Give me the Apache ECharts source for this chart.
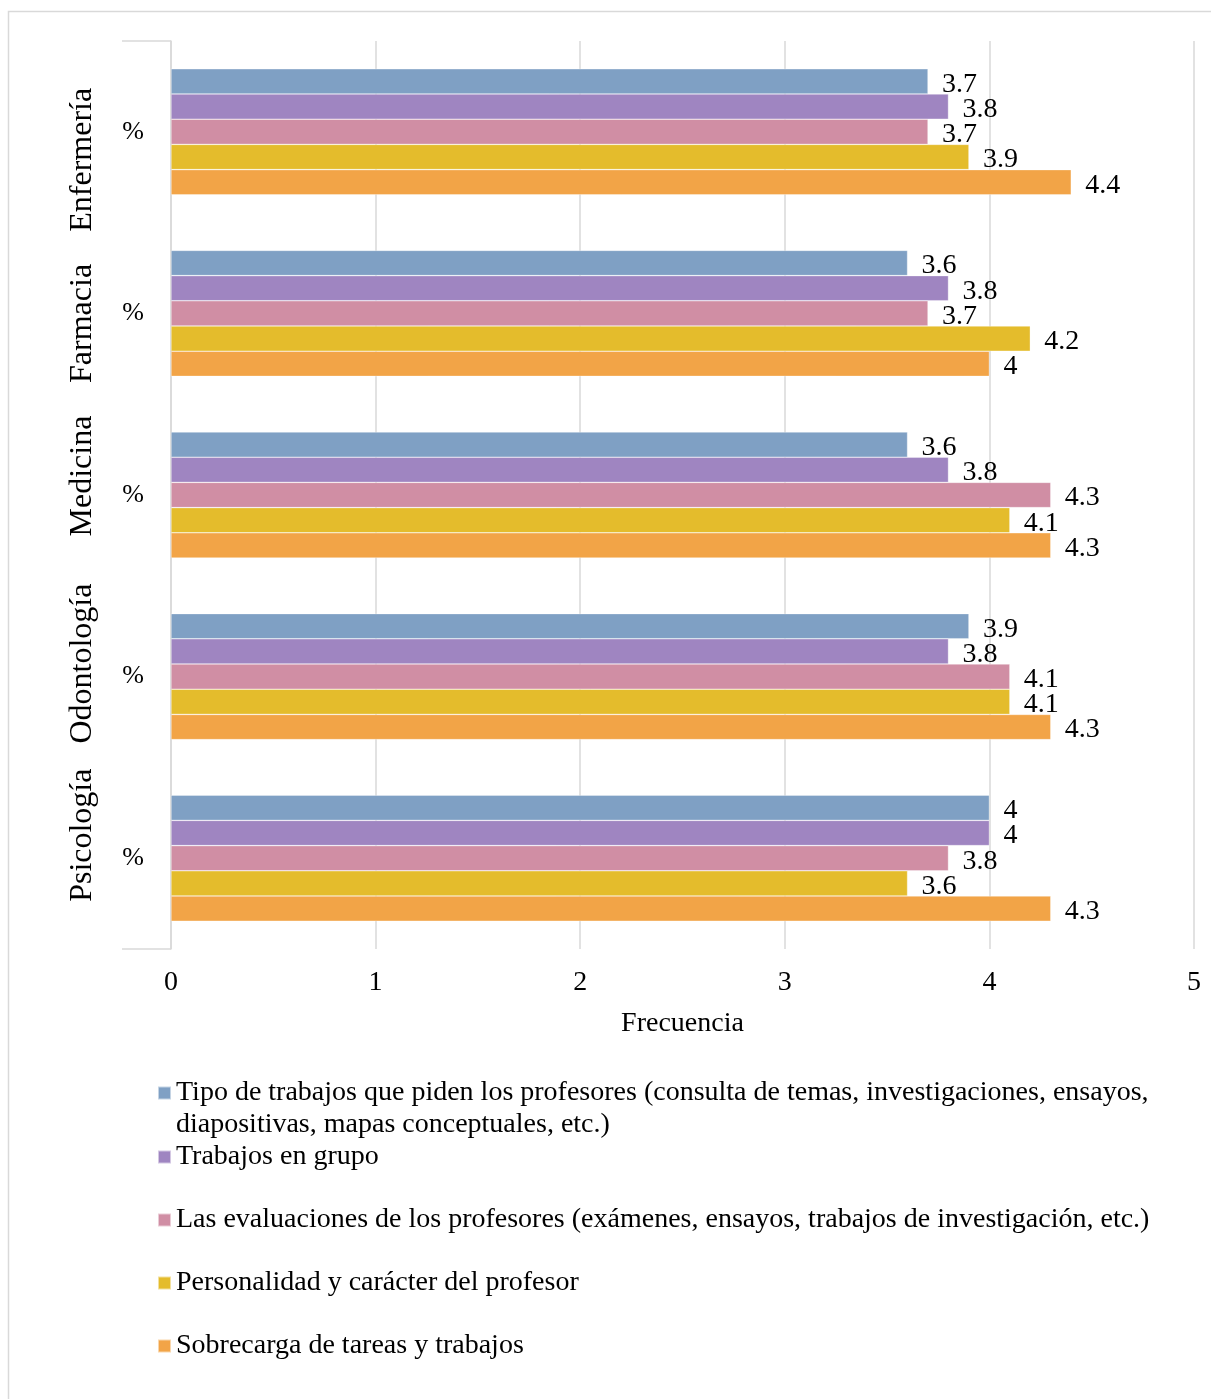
<!DOCTYPE html>
<html>
<head>
<meta charset="utf-8">
<title>Frecuencia por carrera</title>
<script src="https://cdn.jsdelivr.net/npm/echarts@6/dist/echarts.min.js"></script>
<style>
  html, body { margin: 0; padding: 0; background: #ffffff; }
  #chart { width: 1211px; height: 1399px; }
</style>
</head>
<body>
<div id="chart"></div>
<script>
// Carreras (grupos del eje vertical) y la etiqueta interior de cada grupo
const categories = ['Enfermería', 'Farmacia', 'Medicina', 'Odontología', 'Psicología'];
const innerLabels = ['%', '%', '%', '%', '%'];

// Nombres de las series
const seriesNames = [
  'Tipo de trabajos que piden los profesores (consulta de temas, investigaciones, ensayos, diapositivas, mapas conceptuales, etc.)',
  'Trabajos en grupo',
  'Las evaluaciones de los profesores (exámenes, ensayos, trabajos de investigación, etc.)',
  'Personalidad y carácter del profesor',
  'Sobrecarga de tareas y trabajos'
];

// Frecuencia media por carrera (mismo orden que categories)
const tipoTrabajos = [3.7, 3.6, 3.6, 3.9, 4];
const trabajosGrupo = [3.8, 3.8, 3.8, 3.8, 4];
const evaluaciones = [3.7, 3.7, 4.3, 4.1, 3.8];
const personalidad = [3.9, 4.2, 4.1, 4.1, 3.6];
const sobrecarga = [4.4, 4, 4.3, 4.3, 4.3];

// Escala del eje horizontal
const xMin = 0;
const xMax = 5;
const xStep = 1;

const seriesValues = [tipoTrabajos, trabajosGrupo, evaluaciones, personalidad, sobrecarga];
const colors = ['#7fa0c4', '#9f85c1', '#d08ea4', '#e4bc2c', '#f2a447'];

const FONT = '"Liberation Serif", "Times New Roman", serif';
const GRID = { left: 171, right: 17, top: 41, bottom: 450 };
const CHART_H = 1399;
const gridBottomY = CHART_H - GRID.bottom;

// Desplazamiento vertical (px) del rótulo girado de cada carrera
const outerLabelShift = [28, 10, -19, -13, -23];

const chart = echarts.init(document.getElementById('chart'), null, { renderer: 'canvas' });

const outerAxisData = categories.map(function (c, i) {
  const s = outerLabelShift[i] * 2;
  return {
    value: c,
    textStyle: { padding: s >= 0 ? [0, s, 0, 0] : [0, 0, 0, -s] }
  };
});

const series = seriesNames.map(function (name, k) {
  return {
    name: name,
    type: 'bar',
    yAxisIndex: 0,
    data: seriesValues[k],
    barGap: '0%',
    barCategoryGap: '30.6%',
    itemStyle: { color: colors[k], borderColor: 'rgba(255,255,255,0.55)', borderWidth: 0.6 },
    label: {
      show: true,
      position: 'right',
      distance: 14,
      fontFamily: FONT,
      fontSize: 28,
      color: '#000000',
      offset: [0, 3]
    },
    emphasis: { disabled: true }
  };
});

// Leyendas en filas, una por serie; la primera ocupa dos líneas con el
// cuadro de color alineado a la primera línea
const legendCenters = [1093, 1157, 1220, 1283, 1346];
const legends = seriesNames.map(function (name, k) {
  const first = k === 0;
  return {
    show: true,
    orient: 'vertical',
    left: 157,
    top: first ? legendCenters[k] - 48 : legendCenters[k] - 16,
    padding: 0,
    icon: 'rect',
    itemWidth: 13,
    itemHeight: 13,
    selectedMode: false,
    data: [name],
    formatter: first
      ? function (n) { return '\n' + n.replace('ensayos, ', 'ensayos,\n'); }
      : undefined,
    textStyle: {
      fontFamily: FONT,
      fontSize: 28,
      color: '#000000',
      lineHeight: 32
    }
  };
});

chart.setOption({
  backgroundColor: '#ffffff',
  animation: false,
  color: colors,
  grid: GRID,
  legend: legends,
  xAxis: {
    type: 'value',
    min: xMin,
    max: xMax,
    interval: xStep,
    name: 'Frecuencia',
    nameLocation: 'middle',
    nameGap: 61,
    nameTextStyle: { fontFamily: FONT, fontSize: 28, color: '#000000' },
    axisLine: { show: false },
    axisTick: { show: false },
    axisLabel: { margin: 20, fontFamily: FONT, fontSize: 28, color: '#000000' },
    splitLine: { show: true, lineStyle: { color: '#d9d9d9', width: 1.5 } }
  },
  yAxis: [
    {
      type: 'category',
      inverse: true,
      data: categories,
      axisLine: { show: true, lineStyle: { color: '#d9d9d9', width: 1.5 } },
      axisTick: { show: false },
      axisLabel: {
        margin: 27,
        interval: 0,
        fontFamily: FONT,
        fontSize: 26,
        color: '#000000',
        formatter: function (v, i) { return innerLabels[i]; }
      }
    },
    {
      type: 'category',
      inverse: true,
      position: 'left',
      data: outerAxisData,
      axisLine: { show: false },
      axisTick: { show: false },
      splitLine: { show: false },
      axisLabel: {
        margin: 72,
        interval: 0,
        rotate: 90,
        fontFamily: FONT,
        fontSize: 32,
        color: '#000000'
      }
    }
  ],
  series: series,
  graphic: [
    {
      type: 'rect',
      silent: true,
      shape: { x: 8.5, y: 11.5, width: 1400, height: 1500 },
      style: { fill: null, stroke: '#d9d9d9', lineWidth: 1.5 }
    },
    {
      type: 'line',
      silent: true,
      shape: { x1: 122, y1: GRID.top, x2: GRID.left, y2: GRID.top },
      style: { stroke: '#d9d9d9', lineWidth: 1.5 }
    },
    {
      type: 'line',
      silent: true,
      shape: { x1: 122, y1: gridBottomY, x2: GRID.left, y2: gridBottomY },
      style: { stroke: '#d9d9d9', lineWidth: 1.5 }
    }
  ]
});
</script>
</body>
</html>
